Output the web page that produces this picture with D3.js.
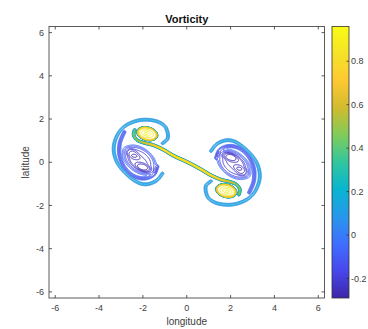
<!DOCTYPE html>
<html>
<head>
<meta charset="utf-8">
<script src="https://cdn.jsdelivr.net/npm/d3@7"></script>
<style>
  body { margin: 0; background: #fff; }
  text { font-family: "Liberation Sans", Arial, Helvetica, sans-serif; fill: #404040; }
</style>
</head>
<body>
<svg id="chart" width="368" height="329"></svg>
<script>
const xTicks = [-6, -4, -2, 0, 2, 4, 6];
const yTicks = [-6, -4, -2, 0, 2, 4, 6];
const cbarTicks = [-0.2, 0, 0.2, 0.4, 0.6, 0.8];
const colorDomain = [-0.29, 0.96];
const posLevels = [0.05, 0.1, 0.15, 0.2, 0.25, 0.3, 0.35, 0.4, 0.45, 0.5,
  0.55, 0.6, 0.65, 0.7, 0.75, 0.8, 0.85, 0.9, 0.94];
const negLevels = [-0.05, -0.1, -0.15, -0.2, -0.225, -0.25, -0.275];

// left vortex pair, the right one is its mirror through the origin
// [cx, cy, semiA, semiB, angleDeg, amplitude, sharpness]
const leftBlobs = [
  [-1.8, 1.32, 0.47, 0.3, -15, 0.78, 12],
  [-1.85, 1.34, 0.36, 0.2, -15, 0.17, 1],
  [-2.15, 0.1, 0.84, 0.54, -38, -0.21, 4],
  [-2.55, 0.45, 0.42, 0.2, -30, -0.05, 2],
  [-1.9, -0.3, 0.42, 0.18, -25, -0.06, 2],
  [-2.2, 0.0, 0.5, 0.3, -38, -0.035, 3]
];
// outer spiral arm (light blue)
const leftRing = [
  [-1.1, 0.88], [-0.88, 1.08], [-0.88, 1.4], [-1.05, 1.72], [-1.5, 1.93],
  [-2.14, 1.95], [-2.75, 1.72], [-3.13, 1.32], [-3.33, 0.71], [-3.22, 0.09],
  [-2.85, -0.45], [-2.3, -0.9], [-1.84, -1.02], [-1.38, -0.85], [-1.11, -0.52]
];
// inner negative arm (purple)
const leftArm = [
  [-2.85, 1.4], [-3.05, 0.9], [-3.07, 0.35], [-2.87, -0.2], [-2.45, -0.62],
  [-1.95, -0.75], [-1.52, -0.58], [-1.35, -0.2]
];
// thin filament joining both positive cores [x, y, amplitude]
const filament = [
  [-2.38, 1.5, 0.45], [-2.42, 1.25, 0.5], [-2.25, 1.02, 0.55], [-1.95, 0.9, 0.65],
  [-1.55, 0.8, 0.75], [-1.1, 0.6, 0.87], [-0.6, 0.3, 0.9], [0, 0.02, 0.9],
  [0.6, -0.3, 0.9], [1.1, -0.6, 0.87], [1.55, -0.8, 0.75], [1.95, -0.9, 0.65],
  [2.25, -1.02, 0.55], [2.42, -1.25, 0.5], [2.38, -1.5, 0.45]
];

const parulaStops = ["#3e26a8", "#4747eb", "#3e6fff", "#2797eb", "#08b5d0", "#31c69f",
  "#80cc59", "#d1bb2f", "#fec832", "#f5e327", "#f9fb14"];

const svg = d3.select("#chart");
const plot = { left: 49, right: 324.5, top: 26.5, bottom: 298 };
const cbar = { left: 332, right: 349 };
const L = 2 * Math.PI;

const x = d3.scaleLinear().domain([-L, L]).range([plot.left, plot.right]);
const y = d3.scaleLinear().domain([-L, L]).range([plot.bottom, plot.top]);

const color = d3.scaleLinear()
  .domain(parulaStops.map((d, i) => colorDomain[0] + (i / (parulaStops.length - 1)) * (colorDomain[1] - colorDomain[0])))
  .range(parulaStops)
  .clamp(true);

// smooth a polyline with catmull-rom samples
function smooth(pts, n) {
  const out = [];
  for (let i = 0; i < pts.length - 1; i++) {
    const p0 = pts[Math.max(0, i - 1)], p1 = pts[i], p2 = pts[i + 1], p3 = pts[Math.min(pts.length - 1, i + 2)];
    for (let k = 0; k < n; k++) {
      const t = k / n, t2 = t * t, t3 = t2 * t;
      out.push(p1.map((_, j) => 0.5 * ((2 * p1[j]) + (-p0[j] + p2[j]) * t +
        (2 * p0[j] - 5 * p1[j] + 4 * p2[j] - p3[j]) * t2 + (-p0[j] + 3 * p1[j] - 3 * p2[j] + p3[j]) * t3)));
    }
  }
  out.push(pts[pts.length - 1].slice());
  return out;
}

const mirror = (pts) => pts.map((p) => [-p[0], -p[1], ...p.slice(2)]);
const ringL = smooth(leftRing, 6), ringR = mirror(ringL);
const armL = smooth(leftArm, 6), armR = mirror(armL);
const fil = smooth(filament, 6);
const blobs = leftBlobs.concat(leftBlobs.map((b) => [-b[0], -b[1], ...b.slice(2)]));

function blobVal(b, px, py) {
  const [cx, cy, a, bb, ang, amp, p] = b;
  const t = ang * Math.PI / 180, c = Math.cos(t), s = Math.sin(t);
  const dx = px - cx, dy = py - cy;
  const u = (dx * c + dy * s) / a, v = (-dx * s + dy * c) / bb;
  return amp * Math.exp(-Math.pow(u * u + v * v, p));
}

function tubeVal(pts, amp, w, px, py) {
  let best = 0;
  const lim = 16 * w * w;
  for (let i = 0; i < pts.length - 1; i++) {
    const p1 = pts[i], p2 = pts[i + 1];
    const ex = p2[0] - p1[0], ey = p2[1] - p1[1];
    let t = ((px - p1[0]) * ex + (py - p1[1]) * ey) / (ex * ex + ey * ey);
    t = Math.max(0, Math.min(1, t));
    const dx = px - p1[0] - t * ex, dy = py - p1[1] - t * ey;
    const d2 = dx * dx + dy * dy;
    if (d2 > lim) continue;
    const a = p1.length > 2 ? p1[2] + t * (p2[2] - p1[2]) : amp;
    const v = a * Math.exp(-d2 / (w * w));
    if (Math.abs(v) > Math.abs(best)) best = v;
  }
  return best;
}

// field on a fine grid around the structure
const step = 0.02, gx0 = -4.2, gy0 = -3;
const nx = Math.round(8.4 / step) + 1, ny = Math.round(6 / step) + 1;
const field = new Float64Array(nx * ny);
for (let j = 0; j < ny; j++) {
  const py = gy0 + j * step;
  for (let i = 0; i < nx; i++) {
    const px = gx0 + i * step;
    let v = 0;
    for (const b of blobs) v += blobVal(b, px, py);
    v += tubeVal(ringL, 0.17, 0.06, px, py) + tubeVal(ringR, 0.17, 0.06, px, py);
    v += tubeVal(armL, -0.16, 0.07, px, py) + tubeVal(armR, -0.16, 0.07, px, py);
    v += tubeVal(fil, 0, 0.04, px, py);
    field[j * nx + i] = v;
  }
}

const proj = d3.geoTransform({
  point(px, py) {
    this.stream.point(x(gx0 + (px - 0.5) * step), y(gy0 + (py - 0.5) * step));
  }
});
const path = d3.geoPath(proj);

const contours = d3.contours().size([nx, ny]);
const negField = field.map((v) => -v);
const negSets = contours.thresholds(negLevels.map((d) => -d))(negField)
  .map((c) => ({ value: -c.value, geo: c }));
const posSets = contours.thresholds(posLevels)(field)
  .map((c) => ({ value: c.value, geo: c }));

svg.append("rect")
  .attr("x", plot.left).attr("y", plot.top)
  .attr("width", plot.right - plot.left).attr("height", plot.bottom - plot.top)
  .attr("fill", "#fff");

const lines = svg.append("g");
lines.selectAll("path")
  .data(negSets.concat(posSets))
  .join("path")
  .attr("d", (d) => path(d.geo))
  .attr("fill", "none")
  .attr("stroke", (d) => color(d.value))
  .attr("stroke-width", 1);

// axes box with inward ticks
const axisColor = "#333";
const tickLen = 3;
const ax = svg.append("g");
ax.append("rect")
  .attr("x", plot.left).attr("y", plot.top)
  .attr("width", plot.right - plot.left).attr("height", plot.bottom - plot.top)
  .attr("fill", "none").attr("stroke", axisColor).attr("stroke-width", 0.8);

xTicks.forEach((t) => {
  ax.append("line").attr("x1", x(t)).attr("x2", x(t))
    .attr("y1", plot.bottom).attr("y2", plot.bottom - tickLen).attr("stroke", axisColor).attr("stroke-width", 0.8);
  ax.append("line").attr("x1", x(t)).attr("x2", x(t))
    .attr("y1", plot.top).attr("y2", plot.top + tickLen).attr("stroke", axisColor).attr("stroke-width", 0.8);
  ax.append("text").attr("x", x(t)).attr("y", 311)
    .attr("text-anchor", "middle").style("font-size", "9px").text(t);
});

yTicks.forEach((t) => {
  ax.append("line").attr("x1", plot.left).attr("x2", plot.left + tickLen)
    .attr("y1", y(t)).attr("y2", y(t)).attr("stroke", axisColor).attr("stroke-width", 0.8);
  ax.append("line").attr("x1", plot.right).attr("x2", plot.right - tickLen)
    .attr("y1", y(t)).attr("y2", y(t)).attr("stroke", axisColor).attr("stroke-width", 0.8);
  ax.append("text").attr("x", 44).attr("y", y(t) + 3.2)
    .attr("text-anchor", "end").style("font-size", "9px").text(t);
});

svg.append("text")
  .attr("x", (plot.left + plot.right) / 2).attr("y", 22.5)
  .attr("text-anchor", "middle")
  .style("font-size", "11px").style("font-weight", "bold").style("fill", "#111")
  .text("Vorticity");

svg.append("text")
  .attr("x", (plot.left + plot.right) / 2).attr("y", 324.5)
  .attr("text-anchor", "middle").style("font-size", "10px")
  .text("longitude");

svg.append("text")
  .attr("transform", `translate(28.5,${(plot.top + plot.bottom) / 2}) rotate(-90)`)
  .attr("text-anchor", "middle").style("font-size", "10px")
  .text("latitude");

// colorbar
const cy = d3.scaleLinear().domain(colorDomain).range([plot.bottom, plot.top]);
const grad = svg.append("defs").append("linearGradient")
  .attr("id", "parula").attr("x1", 0).attr("x2", 0).attr("y1", 1).attr("y2", 0);
parulaStops.forEach((c, i) => {
  grad.append("stop").attr("offset", i / (parulaStops.length - 1)).attr("stop-color", c);
});
svg.append("rect")
  .attr("x", cbar.left).attr("y", plot.top)
  .attr("width", cbar.right - cbar.left).attr("height", plot.bottom - plot.top)
  .attr("fill", "url(#parula)")
  .attr("stroke", axisColor).attr("stroke-width", 0.8);

cbarTicks.forEach((t) => {
  svg.append("line").attr("x1", cbar.right).attr("x2", cbar.right - 2.5)
    .attr("y1", cy(t)).attr("y2", cy(t)).attr("stroke", axisColor).attr("stroke-width", 0.8);
  svg.append("text").attr("x", 351).attr("y", cy(t) + 3.2)
    .style("font-size", "9px").text(t);
});
</script>
</body>
</html>
